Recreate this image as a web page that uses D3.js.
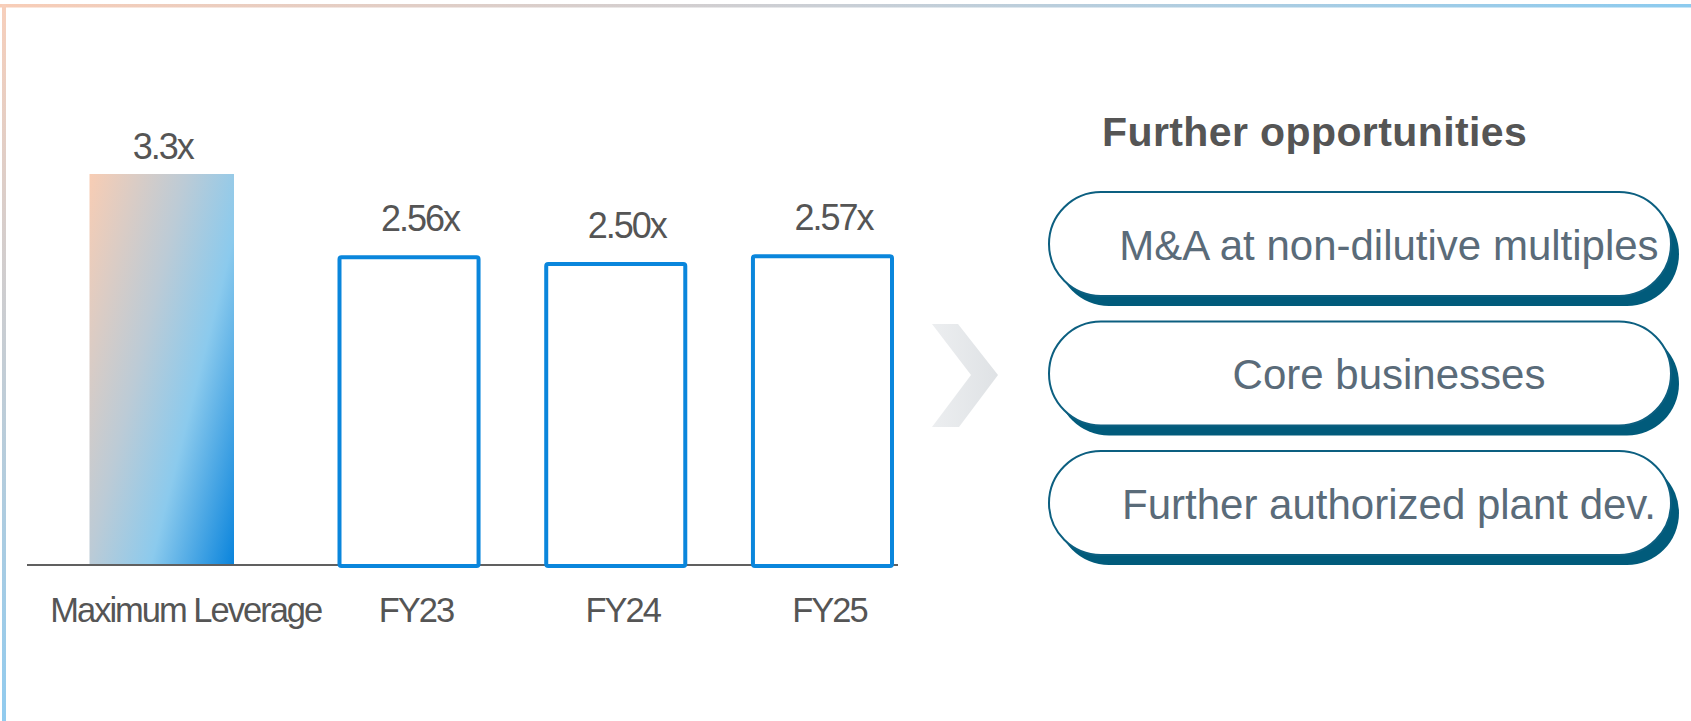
<!DOCTYPE html>
<html>
<head>
<meta charset="utf-8">
<script src="https://cdnjs.cloudflare.com/ajax/libs/d3/7.8.5/d3.min.js"></script>
<style>
  html, body { margin: 0; padding: 0; background: #fff; }
  svg { display: block; font-family: "Liberation Sans", Arial, sans-serif; }
</style>
</head>
<body>
<div id="container"></div>
<script>
var width = 1691;
var height = 721;

// chart values
var categories = ["Maximum Leverage", "FY23", "FY24", "FY25"];
var leverage = [3.3, 2.56, 2.50, 2.57];
var valueLabels = ["3.3x", "2.56x", "2.50x", "2.57x"];

// right panel
var panelTitle = "Further opportunities";
var opportunities = ["M&A at non-dilutive multiples", "Core businesses", "Further authorized plant dev."];

var baseY = 564;

var svg = d3.select("#container").append("svg")
    .attr("width", width)
    .attr("height", height);

var defs = svg.append("defs");

var topGrad = defs.append("linearGradient").attr("id", "topGrad")
    .attr("x1", "0%").attr("y1", "0%").attr("x2", "100%").attr("y2", "0%");
topGrad.append("stop").attr("offset", "0%").attr("stop-color", "#f8cdb7");
topGrad.append("stop").attr("offset", "50%").attr("stop-color", "#c9cfd6");
topGrad.append("stop").attr("offset", "100%").attr("stop-color", "#8ccbef");

var leftGrad = defs.append("linearGradient").attr("id", "leftGrad")
    .attr("x1", "0%").attr("y1", "0%").attr("x2", "0%").attr("y2", "100%");
leftGrad.append("stop").attr("offset", "0%").attr("stop-color", "#f7cfbb");
leftGrad.append("stop").attr("offset", "100%").attr("stop-color", "#90cbef");

// gradient used by the reference bar
var barGrad = defs.append("linearGradient").attr("id", "barGrad")
    .attr("gradientUnits", "userSpaceOnUse")
    .attr("x1", 89).attr("y1", 174).attr("x2", 318).attr("y2", 232);
barGrad.append("stop").attr("offset", "0%").attr("stop-color", "#f8cdb4");
barGrad.append("stop").attr("offset", "40%").attr("stop-color", "#bccbd6");
barGrad.append("stop").attr("offset", "66%").attr("stop-color", "#8bcaed");
barGrad.append("stop").attr("offset", "100%").attr("stop-color", "#0a84dc");

var chevGrad = defs.append("linearGradient").attr("id", "chevGrad")
    .attr("x1", "0%").attr("y1", "0%").attr("x2", "100%").attr("y2", "0%");
chevGrad.append("stop").attr("offset", "0%").attr("stop-color", "#eceef0");
chevGrad.append("stop").attr("offset", "100%").attr("stop-color", "#dfe2e5");

defs.append("filter").attr("id", "soft")
  .append("feGaussianBlur").attr("stdDeviation", 0.7);

// frame lines (top + left)
svg.append("rect")
    .attr("x", 0).attr("y", 4)
    .attr("width", width).attr("height", 3.5)
    .attr("fill", "url(#topGrad)");
svg.append("rect")
    .attr("x", 2).attr("y", 4)
    .attr("width", 4).attr("height", height)
    .attr("fill", "url(#leftGrad)");

// scales
var xRef = d3.scaleBand()
    .domain(categories.slice(0, 1))
    .range([89.5, 234]);

var xFY = d3.scaleBand()
    .domain(categories.slice(1))
    .range([337.5, 894])
    .paddingInner(0.308);

function xOf(c) {
  return c === categories[0] ? xRef(c) : xFY(c);
}
function bw(c) {
  return c === categories[0] ? xRef.bandwidth() : xFY.bandwidth();
}

var y = d3.scaleLinear()
    .domain([-0.25, 3.3])
    .range([baseY, 174]);

var bars = categories.map(function (c, i) {
  return {cat: c, value: leverage[i], label: valueLabels[i], ref: i === 0};
});

// baseline
svg.append("line")
    .attr("x1", 27).attr("x2", 898)
    .attr("y1", baseY + 1).attr("y2", baseY + 1)
    .attr("stroke", "#2b2b2b")
    .attr("stroke-width", 1.6);

// filled reference bar
svg.selectAll(".refbar")
    .data(bars.filter(function (d) { return d.ref; }))
  .enter().append("rect")
    .attr("class", "refbar")
    .attr("x", function (d) { return xOf(d.cat); })
    .attr("y", function (d) { return y(d.value); })
    .attr("width", function (d) { return bw(d.cat); })
    .attr("height", function (d) { return baseY - y(d.value); })
    .attr("fill", "url(#barGrad)");

// outlined bars
svg.selectAll(".fybar")
    .data(bars.filter(function (d) { return !d.ref; }))
  .enter().append("rect")
    .attr("class", "fybar")
    .attr("x", function (d) { return xOf(d.cat) + 2; })
    .attr("y", function (d) { return y(d.value) + 2; })
    .attr("width", function (d) { return bw(d.cat) - 4; })
    .attr("height", function (d) { return baseY - y(d.value); })
    .attr("rx", 2)
    .attr("fill", "#fff")
    .attr("stroke", "#0a86dc")
    .attr("stroke-width", 4);

// value labels
svg.selectAll(".vlabel")
    .data(bars)
  .enter().append("text")
    .attr("class", "vlabel")
    .attr("x", function (d) { return xOf(d.cat) + bw(d.cat) / 2 + (d.ref ? 1 : 11); })
    .attr("y", function (d) { return y(d.value) - (d.ref ? 15 : 24); })
    .attr("text-anchor", "middle")
    .attr("font-size", 36)
    .attr("letter-spacing", -2)
    .attr("fill", "#555555")
    .text(function (d) { return d.label; });

// category labels
svg.selectAll(".clabel")
    .data(bars)
  .enter().append("text")
    .attr("class", "clabel")
    .attr("x", function (d) { return xOf(d.cat) + bw(d.cat) / 2 + (d.ref ? 24 : 7); })
    .attr("y", 622)
    .attr("text-anchor", "middle")
    .attr("font-size", 34.5)
    .attr("letter-spacing", -2)
    .attr("fill", "#555555")
    .text(function (d) { return d.cat; });

// chevron
svg.append("polygon")
    .attr("points", [[932, 324], [958, 324], [998, 375], [959, 427], [932, 427], [971, 375]]
      .map(function (p) { return p.join(","); }).join(" "))
    .attr("fill", "url(#chevGrad)")
    .attr("filter", "url(#soft)");

// right panel
svg.append("text")
    .attr("x", 1102)
    .attr("y", 145.5)
    .attr("font-size", 41)
    .attr("font-weight", "bold")
    .attr("letter-spacing", 0.4)
    .attr("fill", "#555555")
    .text(panelTitle);

var py = d3.scaleBand()
    .domain(opportunities)
    .range([192, 555])
    .paddingInner(0.197);

var pillX = 1049, pillW = 622;

var pill = svg.selectAll(".pill")
    .data(opportunities)
  .enter().append("g")
    .attr("class", "pill")
    .attr("transform", function (d) { return "translate(" + pillX + "," + py(d) + ")"; });

pill.append("rect")
    .attr("x", 8).attr("y", 10)
    .attr("width", pillW).attr("height", py.bandwidth())
    .attr("rx", py.bandwidth() / 2)
    .attr("fill", "#015b7b");

pill.append("rect")
    .attr("x", 0).attr("y", 0)
    .attr("width", pillW).attr("height", py.bandwidth())
    .attr("rx", py.bandwidth() / 2)
    .attr("fill", "#fff")
    .attr("stroke", "#0c5f80")
    .attr("stroke-width", 2);

pill.append("text")
    .attr("x", pillW / 2 + 29)
    .attr("y", py.bandwidth() / 2 + 16)
    .attr("text-anchor", "middle")
    .attr("font-size", 42)
    .attr("fill", "#5a6b79")
    .text(function (d) { return d; });
</script>
</body>
</html>
